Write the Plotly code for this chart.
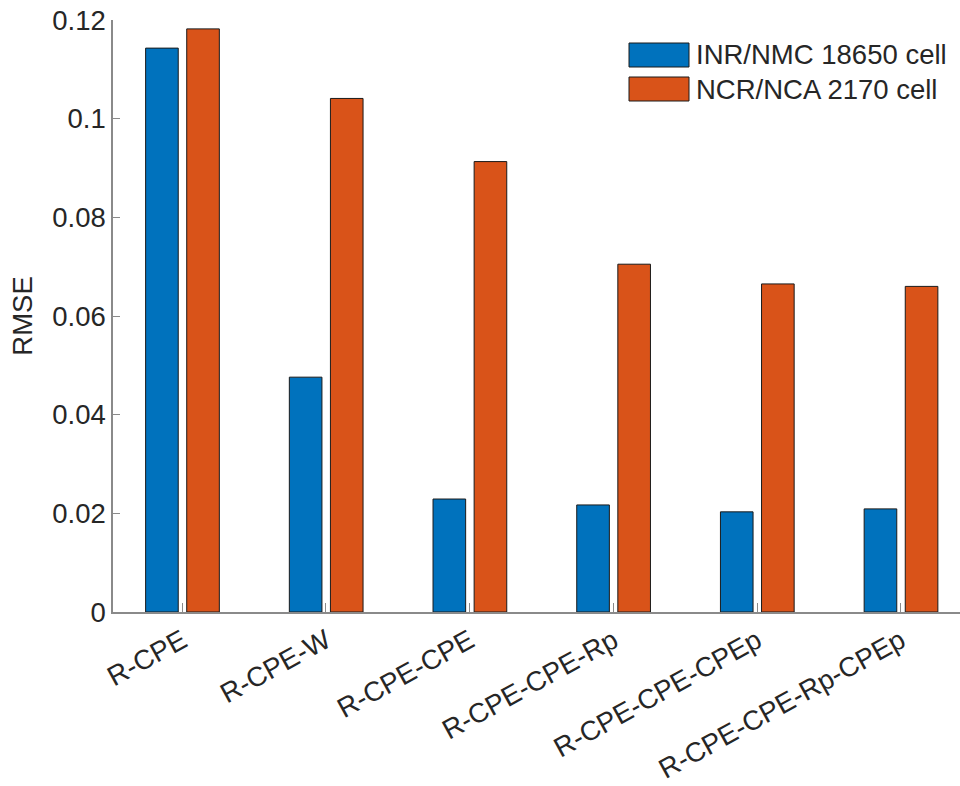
import plotly.graph_objects as go

# Equivalent-circuit models compared
categories = ["R-CPE", "R-CPE-W", "R-CPE-CPE", "R-CPE-CPE-Rp",
              "R-CPE-CPE-CPEp", "R-CPE-CPE-Rp-CPEp"]

# RMSE of each model fit, per cell type
series_names = ["INR/NMC 18650 cell", "NCR/NCA 2170 cell"]
rmse_inr_nmc = [0.1143, 0.0476, 0.0229, 0.0217, 0.0203, 0.0209]
rmse_ncr_nca = [0.1182, 0.1041, 0.0913, 0.0705, 0.0665, 0.0660]

y_tickvals = [0, 0.02, 0.04, 0.06, 0.08, 0.10, 0.12]
y_ticktext = ["0", "0.02", "0.04", "0.06", "0.08", "0.1", "0.12"]

colors = ["#0072BD", "#D95319"]
FONT = "Liberation Sans, Arial, Helvetica, sans-serif"
FS = 27.5
TEXT = "#262626"
AXIS = "#8a8a8a"

positions = list(range(1, len(categories) + 1))

fig = go.Figure()
for name, vals, col, off in zip(series_names, [rmse_inr_nmc, rmse_ncr_nca],
                                colors, [-0.255, 0.031]):
    fig.add_trace(go.Bar(
        x=positions, y=vals, name=name,
        width=0.227, offset=off,
        marker=dict(color=col, line=dict(color="#1a1a1a", width=1)),
        showlegend=False,
    ))

# Legend drawn as large swatches with labels (top right)
sw_x0, sw_x1 = 629, 689
rows = [(43, 67), (77, 101)]
W, H = 960, 786
for (y0, y1), col, name in zip(rows, colors, series_names):
    fig.add_shape(type="rect", xref="paper", yref="paper",
                  x0=(sw_x0 - 113) / (W - 113), x1=(sw_x1 - 113) / (W - 113),
                  y0=1 - (y1 - 20) / (612 - 20), y1=1 - (y0 - 20) / (612 - 20),
                  fillcolor=col, line=dict(color="#1a1a1a", width=1))
    fig.add_annotation(xref="paper", yref="paper",
                       x=(694 - 113) / (W - 113),
                       y=1 - ((y0 + y1) / 2 - 20) / (612 - 20),
                       text=name, showarrow=False, xanchor="left",
                       yanchor="middle",
                       font=dict(family=FONT, size=FS, color=TEXT))

fig.update_layout(
    width=W, height=H,
    margin=dict(l=113, r=0, t=20, b=174),
    plot_bgcolor="white", paper_bgcolor="white",
    barmode="overlay",
    font=dict(family=FONT, size=FS, color=TEXT),
    xaxis=dict(
        range=[0.518, 6.412],
        tickvals=positions, ticktext=categories, tickangle=-29,
        ticks="inside", ticklen=9, tickcolor=AXIS, tickwidth=1,
        showline=True, linecolor=AXIS, linewidth=2,
        showgrid=False, zeroline=False,
        tickfont=dict(family=FONT, size=FS, color=TEXT),
    ),
    yaxis=dict(
        range=[0, 0.12],
        tickvals=y_tickvals, ticktext=y_ticktext,
        ticks="inside", ticklen=7, tickcolor=AXIS, tickwidth=1,
        showline=True, linecolor=AXIS, linewidth=1.5,
        showgrid=False, zeroline=False,
        tickfont=dict(family=FONT, size=FS, color=TEXT),
        title=dict(text="RMSE", font=dict(family=FONT, size=FS, color=TEXT),
                   standoff=12),
    ),
)

fig.write_html("out.html")
